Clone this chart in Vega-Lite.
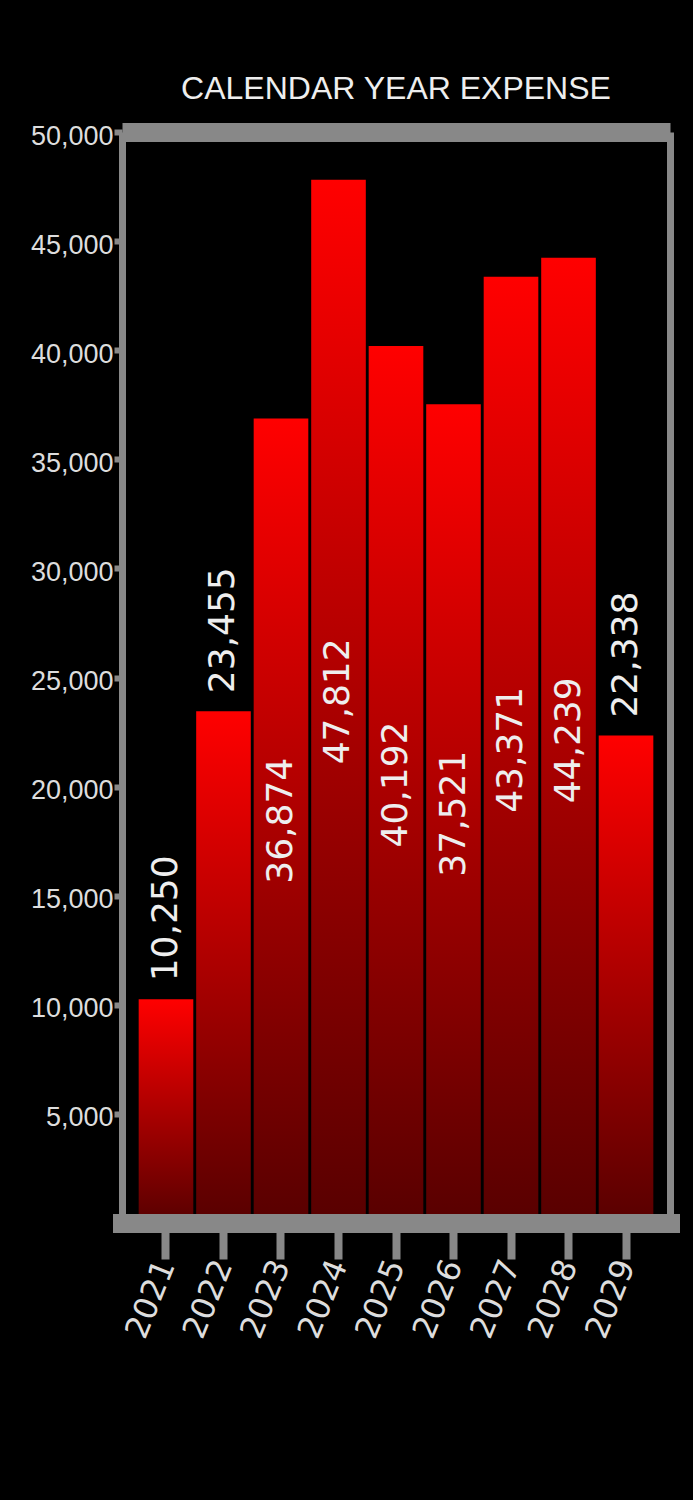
{
  "$schema": "https://vega.github.io/schema/vega-lite/v6.json",
  "autosize": "none",
  "width": 548,
  "height": 1091,
  "padding": {"left": 122, "top": 132, "right": 23, "bottom": 277},
  "background": "#000000",
  "title": {
    "text": "CALENDAR YEAR EXPENSE",
    "font": "Liberation Sans",
    "fontSize": 32,
    "fontWeight": "normal",
    "color": "#eeeeee",
    "anchor": "middle",
    "frame": "group",
    "offset": 16
  },
  "data": {
    "values": [
      {"year": "2021", "expense": 10250},
      {"year": "2022", "expense": 23455},
      {"year": "2023", "expense": 36874},
      {"year": "2024", "expense": 47812},
      {"year": "2025", "expense": 40192},
      {"year": "2026", "expense": 37521},
      {"year": "2027", "expense": 43371},
      {"year": "2028", "expense": 44239},
      {"year": "2029", "expense": 22338}
    ]
  },
  "layer": [
    {
      "mark": {
        "type": "bar",
        "color": {
          "gradient": "linear",
          "x1": 0, "y1": 0, "x2": 0, "y2": 1,
          "stops": [
            {"offset": 0, "color": "#ff0000"},
            {"offset": 1, "color": "#580000"}
          ]
        }
      },
      "encoding": {
        "x": {
          "field": "year",
          "type": "ordinal",
          "scale": {"paddingInner": 0.05, "paddingOuter": 0.29},
          "axis": {
            "orient": "bottom",
            "title": null,
            "zindex": 1,
            "domainColor": "#888888",
            "domainWidth": 19,
            "domainCap": "square",
            "tickColor": "#888888",
            "tickWidth": 8,
            "tickSize": 36,
            "labelAngle": -68,
            "labelAlign": "right",
            "labelBaseline": "middle",
            "labelPadding": 2,
            "labelFont": "DejaVu Sans",
            "labelFontSize": 32,
            "labelColor": "#dddddd"
          }
        },
        "y": {
          "field": "expense",
          "type": "quantitative",
          "scale": {"domain": [0, 50000], "nice": false},
          "axis": {
            "orient": "left",
            "title": null,
            "grid": false,
            "zindex": 1,
            "values": [5000, 10000, 15000, 20000, 25000, 30000, 35000, 40000, 45000, 50000],
            "format": ",.0f",
            "domainColor": "#888888",
            "domainWidth": 7,
            "tickColor": "#888888",
            "tickWidth": 6,
            "tickSize": 8,
            "labelPadding": 1,
            "labelFlush": false,
            "labelOffset": 4,
            "labelFont": "Liberation Sans",
            "labelFontSize": 27,
            "labelColor": "#dddddd"
          }
        }
      }
    },
    {
      "transform": [{"filter": "datum.expense < 30000"}],
      "mark": {
        "type": "text",
        "angle": -90,
        "align": "left",
        "baseline": "middle",
        "dx": 18,
        "font": "DejaVu Sans",
        "fontSize": 36,
        "color": "#eeeeee"
      },
      "encoding": {
        "x": {
          "field": "year",
          "type": "ordinal",
          "axis": {
            "orient": "top",
            "title": null,
            "labels": false,
            "ticks": false,
            "zindex": 1,
            "domainColor": "#888888",
            "domainWidth": 19
          }
        },
        "y": {
          "field": "expense",
          "type": "quantitative",
          "scale": {"domain": [0, 50000], "nice": false},
          "axis": null
        },
        "text": {"field": "expense", "type": "quantitative", "format": ","}
      }
    },
    {
      "transform": [{"filter": "datum.expense >= 30000"}],
      "mark": {
        "type": "text",
        "angle": -90,
        "align": "center",
        "baseline": "middle",
        "font": "DejaVu Sans",
        "fontSize": 36,
        "color": "#eeeeee"
      },
      "encoding": {
        "x": {"field": "year", "type": "ordinal", "axis": null},
        "y": {
          "field": "expense",
          "type": "quantitative",
          "scale": {"domain": [0, 100000], "nice": false},
          "axis": {
            "orient": "right",
            "title": null,
            "labels": false,
            "ticks": false,
            "grid": false,
            "zindex": 1,
            "domainColor": "#888888",
            "domainWidth": 7
          }
        },
        "text": {"field": "expense", "type": "quantitative", "format": ","}
      }
    }
  ],
  "resolve": {
    "scale": {"y": "independent"},
    "axis": {"x": "independent", "y": "independent"}
  },
  "config": {
    "view": {"stroke": null}
  }
}
